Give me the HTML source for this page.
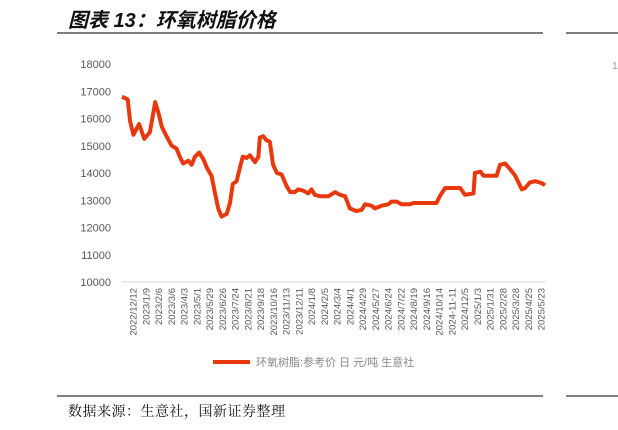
<!DOCTYPE html>
<html><head><meta charset="utf-8"><style>
body{margin:0;width:618px;height:430px;background:#fff;overflow:hidden}
svg{display:block}
</style></head><body>
<svg id="c" width="618" height="430" xmlns="http://www.w3.org/2000/svg">
<text x="68" y="27" font-family="'Liberation Sans','Noto Sans CJK SC',sans-serif" font-size="20" font-weight="bold" font-style="italic" fill="#111">图表 13：环氧树脂价格</text>
<line x1="57" y1="33" x2="543" y2="33" stroke="#333" stroke-width="1.2"/>
<line x1="566" y1="33" x2="618" y2="33" stroke="#333" stroke-width="1.2"/>
<line x1="57" y1="396" x2="543" y2="396" stroke="#333" stroke-width="1.2"/>
<line x1="566" y1="396" x2="618" y2="396" stroke="#333" stroke-width="1.2"/>
<text x="612" y="69" font-family="'Liberation Sans',sans-serif" font-size="10" fill="#999">1</text>
<text x="68" y="416" font-family="'Liberation Serif','Noto Serif CJK SC',serif" font-size="14" letter-spacing="0.5" fill="#111">数据来源：生意社，国新证券整理</text>
<g id="plot"></g>
<line x1="213" y1="362" x2="250" y2="362" stroke="#e8380d" stroke-width="4"/>
<text x="256" y="366" font-family="'Liberation Sans','Noto Sans CJK SC',sans-serif" font-size="11" fill="#888">环氧树脂:参考价 日 元/吨 生意社</text>
</svg>
<script>
const yTicks=[10000,11000,12000,13000,14000,15000,16000,17000,18000];
const xLabels=["2022/12/12","2023/1/9","2023/2/6","2023/3/6","2023/4/3","2023/5/1","2023/5/29","2023/6/26","2023/7/24","2023/8/21","2023/9/18","2023/10/16","2023/11/13","2023/12/11","2024/1/8","2024/2/5","2024/3/4","2024/4/1","2024/4/29","2024/5/27","2024/6/24","2024/7/22","2024/8/19","2024/9/16","2024/10/14","2024-11-11","2024/12/5","2025/1/3","2025/1/31","2025/2/28","2025/3/28","2025/4/25","2025/5/23"];
const days=[0,12,17,24,36,47,59,70,77,84,94,105,115,122,129,140,147,154,163,172,179,189,196,203,210,221,228,234,242,249,255,263,270,281,288,291,298,305,312,319,327,337,348,355,365,372,383,393,400,407,418,436,450,460,471,481,495,506,513,527,534,548,562,569,580,590,608,615,664,671,682,714,724,742,745,757,763,791,798,809,819,830,837,844,851,861,872,882,889,893];
const prices=[16800,16700,15900,15400,15800,15250,15500,16600,16200,15700,15350,15000,14900,14600,14350,14450,14300,14600,14750,14500,14200,13900,13300,12700,12400,12500,12900,13600,13700,14200,14600,14550,14650,14400,14600,15300,15350,15200,15150,14300,14000,13950,13500,13300,13300,13400,13350,13250,13400,13200,13150,13150,13300,13200,13150,12700,12600,12650,12850,12800,12700,12800,12850,12950,12950,12850,12850,12900,12900,13150,13450,13450,13200,13250,14000,14050,13900,13900,14300,14350,14150,13900,13650,13400,13450,13650,13700,13650,13600,13550];
const NS="http://www.w3.org/2000/svg";
const g=document.getElementById('plot');
const X0=122,X1=545,Y0=282,Y1=64;
const yS=v=>Y0-(v-10000)/8000*(Y0-Y1);
const maxDay=days[days.length-1];
const xS=d=>X0+d/maxDay*(X1-X0);
function mk(t,a){const e=document.createElementNS(NS,t);for(const k in a)e.setAttribute(k,a[k]);g.appendChild(e);return e;}
yTicks.forEach(v=>{
 const t=mk('text',{x:111,y:yS(v)+4,'text-anchor':'end','font-family':'Liberation Sans,sans-serif','font-size':11,fill:'#595959'});
 t.textContent=v;
 
 
});
const ax=mk('line',{x1:X0,y1:Y0,x2:X1,y2:Y0,stroke:'#d9d9d9','stroke-width':1});


const n=xLabels.length, lx0=133, lx1=541;
xLabels.forEach((s,i)=>{
 const x=lx0+i*(lx1-lx0)/(n-1);
 const t=mk('text',{x:0,y:0,transform:`translate(${x+3.5},${288}) rotate(-90)`,'text-anchor':'end','font-family':'Liberation Sans,sans-serif','font-size':9.5,fill:'#595959'});
 t.textContent=s;
 
 
});
const pts=days.map((d,i)=>xS(d).toFixed(1)+','+yS(prices[i]).toFixed(1)).join(' ');
const pl=mk('polyline',{points:pts,fill:'none',stroke:'#e8380d','stroke-width':4,'stroke-linejoin':'round'});


</script>
</body></html>
